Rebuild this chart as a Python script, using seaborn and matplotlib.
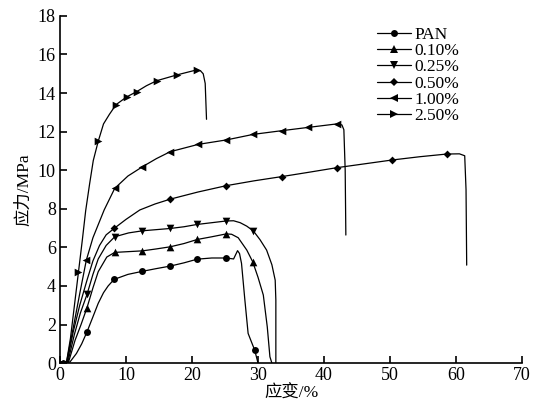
import matplotlib
matplotlib.use("Agg")
import matplotlib.pyplot as plt
from matplotlib.lines import Line2D
import seaborn as sns
import pandas as pd

labels = ["PAN", "0.10%", "0.25%", "0.50%", "1.00%", "2.50%"]
marker_styles = ["o", "^", "v", "D", "<", ">"]

pan_x = [0, 0.5, 1.5, 2.5, 3.3, 4.1, 5.0, 5.8, 6.6, 7.3, 8.2, 10.3, 12.5, 14.6, 16.7, 18.8, 20.8, 23.0, 25.2, 26.3, 26.9, 27.2, 27.5, 28.0, 28.5, 28.9, 29.5, 30.0]
pan_y = [0, 0.1, 0.05, 0.5, 1.0, 1.62, 2.4, 3.1, 3.65, 4.0, 4.34, 4.6, 4.76, 4.9, 5.03, 5.2, 5.39, 5.45, 5.45, 5.4, 5.83, 5.68, 5.17, 3.3, 1.54, 1.19, 0.67, 0]
pan_mx = [4.1, 8.2, 12.5, 16.7, 20.8, 25.2, 29.5]
pan_my = [1.62, 4.34, 4.76, 5.03, 5.39, 5.45, 0.67]

p010_x = [0, 0.5, 1.3, 2.3, 3.2, 4.1, 5.0, 5.8, 7.1, 8.3, 10.4, 12.5, 14.6, 16.7, 18.8, 20.8, 23.0, 25.2, 26.0, 27.0, 28.3, 29.2, 30.0, 30.8, 31.4, 31.8, 32.1]
p010_y = [0, 0.1, 0.05, 1.19, 2.0, 2.87, 3.9, 4.74, 5.5, 5.74, 5.78, 5.82, 5.92, 6.03, 6.2, 6.41, 6.55, 6.7, 6.68, 6.5, 5.86, 5.25, 4.45, 3.53, 1.88, 0.33, 0]
p010_mx = [4.1, 8.3, 12.5, 16.7, 20.8, 25.2, 29.2]
p010_my = [2.87, 5.74, 5.82, 6.03, 6.41, 6.7, 5.25]

p025_x = [0, 0.5, 1.2, 2.2, 3.1, 4.1, 5.0, 5.8, 7.0, 8.3, 10.4, 12.5, 14.6, 16.7, 18.8, 20.8, 23.0, 25.2, 26.3, 27.3, 28.3, 29.3, 30.3, 31.3, 32.1, 32.6, 32.7, 32.7]
p025_y = [0, 0.1, 0.05, 1.5, 2.6, 3.56, 4.6, 5.4, 6.1, 6.55, 6.75, 6.86, 6.92, 6.98, 7.07, 7.19, 7.28, 7.37, 7.38, 7.28, 7.1, 6.85, 6.4, 5.86, 5.1, 4.3, 3.27, 0]
p025_mx = [4.1, 8.3, 12.5, 16.7, 20.8, 25.2, 29.3]
p025_my = [3.56, 6.55, 6.86, 6.98, 7.19, 7.37, 6.85]

p050_x = [0, 0.5, 1.1, 2.0, 3.0, 4.1, 5.0, 6.0, 7.0, 8.2, 10.0, 12.1, 14.4, 16.7, 20.9, 25.2, 29.4, 33.6, 37.8, 41.9, 46.1, 50.3, 54.5, 58.6, 60.5, 61.3, 61.5, 61.6]
p050_y = [0, 0.1, 0.05, 1.6, 3.0, 4.3, 5.3, 6.1, 6.65, 6.98, 7.45, 7.94, 8.25, 8.5, 8.87, 9.2, 9.45, 9.67, 9.9, 10.13, 10.33, 10.53, 10.7, 10.84, 10.85, 10.75, 9.0, 5.08]
p050_mx = [8.2, 16.7, 25.2, 33.6, 41.9, 50.3, 58.6]
p050_my = [6.98, 8.5, 9.2, 9.67, 10.13, 10.53, 10.84]

p100_x = [0, 0.5, 1.0, 2.0, 3.0, 4.0, 5.0, 6.7, 8.3, 10.3, 12.5, 14.6, 16.7, 20.95, 25.2, 29.3, 33.6, 37.6, 41.9, 42.7, 43.0, 43.2, 43.3]
p100_y = [0, 0.1, 0.05, 1.8, 3.6, 5.34, 6.5, 7.94, 9.06, 9.7, 10.18, 10.6, 10.96, 11.34, 11.57, 11.86, 12.05, 12.22, 12.4, 12.35, 12.1, 10.0, 6.64]
p100_mx = [4.0, 8.3, 12.5, 16.7, 20.95, 25.2, 29.3, 33.6, 37.6, 41.9]
p100_my = [5.34, 9.06, 10.18, 10.96, 11.34, 11.57, 11.86, 12.05, 12.22, 12.4]

p250_x = [0, 0.5, 1.0, 1.6, 2.2, 2.8, 3.4, 3.9, 4.5, 5.05, 5.8, 6.6, 7.5, 8.5, 10.1, 11.6, 13.1, 14.65, 17.7, 20.7, 21.3, 21.7, 22.0, 22.2]
p250_y = [0, 0.1, 0.05, 1.3, 3.0, 4.7, 6.4, 7.9, 9.3, 10.5, 11.5, 12.4, 12.9, 13.4, 13.8, 14.07, 14.38, 14.64, 14.94, 15.2, 15.15, 15.0, 14.5, 12.64]
p250_mx = [2.8, 5.8, 8.5, 10.1, 11.6, 14.65, 17.7, 20.7]
p250_my = [4.7, 11.5, 13.4, 13.8, 14.07, 14.64, 14.94, 15.2]

lines = [(pan_x, pan_y), (p010_x, p010_y), (p025_x, p025_y),
         (p050_x, p050_y), (p100_x, p100_y), (p250_x, p250_y)]
marks = [(pan_mx, pan_my), (p010_mx, p010_my), (p025_mx, p025_my),
         (p050_mx, p050_my), (p100_mx, p100_my), (p250_mx, p250_my)]

sns.set_theme(style="white")
plt.rcParams["font.family"] = ["Liberation Serif", "Noto Sans CJK SC"]
plt.rcParams["mathtext.fontset"] = "stix"

fig = plt.figure(figsize=(5.35, 4.08), dpi=100)
ax = fig.add_axes([0.112, 0.110, 0.864, 0.851])

msizes = {"o": 5, "^": 5.5, "v": 5.5, "D": 4, "<": 5.5, ">": 5.5}
handles = []
for lab, mk, (lx, ly), (mx, my) in zip(labels, marker_styles, lines, marks):
    df = pd.DataFrame({"x": lx, "y": ly})
    sns.lineplot(data=df, x="x", y="y", sort=False, estimator=None,
                 color="black", linewidth=0.9, ax=ax)
    dm = pd.DataFrame({"x": mx, "y": my})
    sns.scatterplot(data=dm, x="x", y="y", marker=mk, color="black",
                    s=msizes[mk] ** 2, linewidth=0, ax=ax, zorder=3)
    handles.append(Line2D([0], [0], color="black", linewidth=0.9, marker=mk,
                          markersize=msizes[mk], markeredgewidth=0))

ax.set_xlim(0, 70)
ax.set_ylim(0, 18)
ax.set_xticks(range(0, 71, 10))
ax.set_yticks(range(0, 19, 2))
for s in ["top", "right"]:
    ax.spines[s].set_visible(False)
for s in ["left", "bottom"]:
    ax.spines[s].set_color("black")
    ax.spines[s].set_linewidth(1.2)
ax.tick_params(axis="both", direction="in", length=5, width=1.2,
               colors="black", labelsize=13, pad=3,
               bottom=True, left=True)
ax.set_xlabel("应变/%", fontsize=12.5, color="black", labelpad=1)
ax.set_ylabel("应力/MPa", fontsize=12.5, color="black", labelpad=4)

leg = ax.legend(handles, labels, loc="upper left",
                bbox_to_anchor=(0.685, 0.968), frameon=False,
                fontsize=12.5, handlelength=2.0, handletextpad=0.2,
                labelspacing=0.0, borderpad=0, borderaxespad=0)
for t in leg.get_texts():
    t.set_color("black")

fig.savefig("out.png", dpi=100)
